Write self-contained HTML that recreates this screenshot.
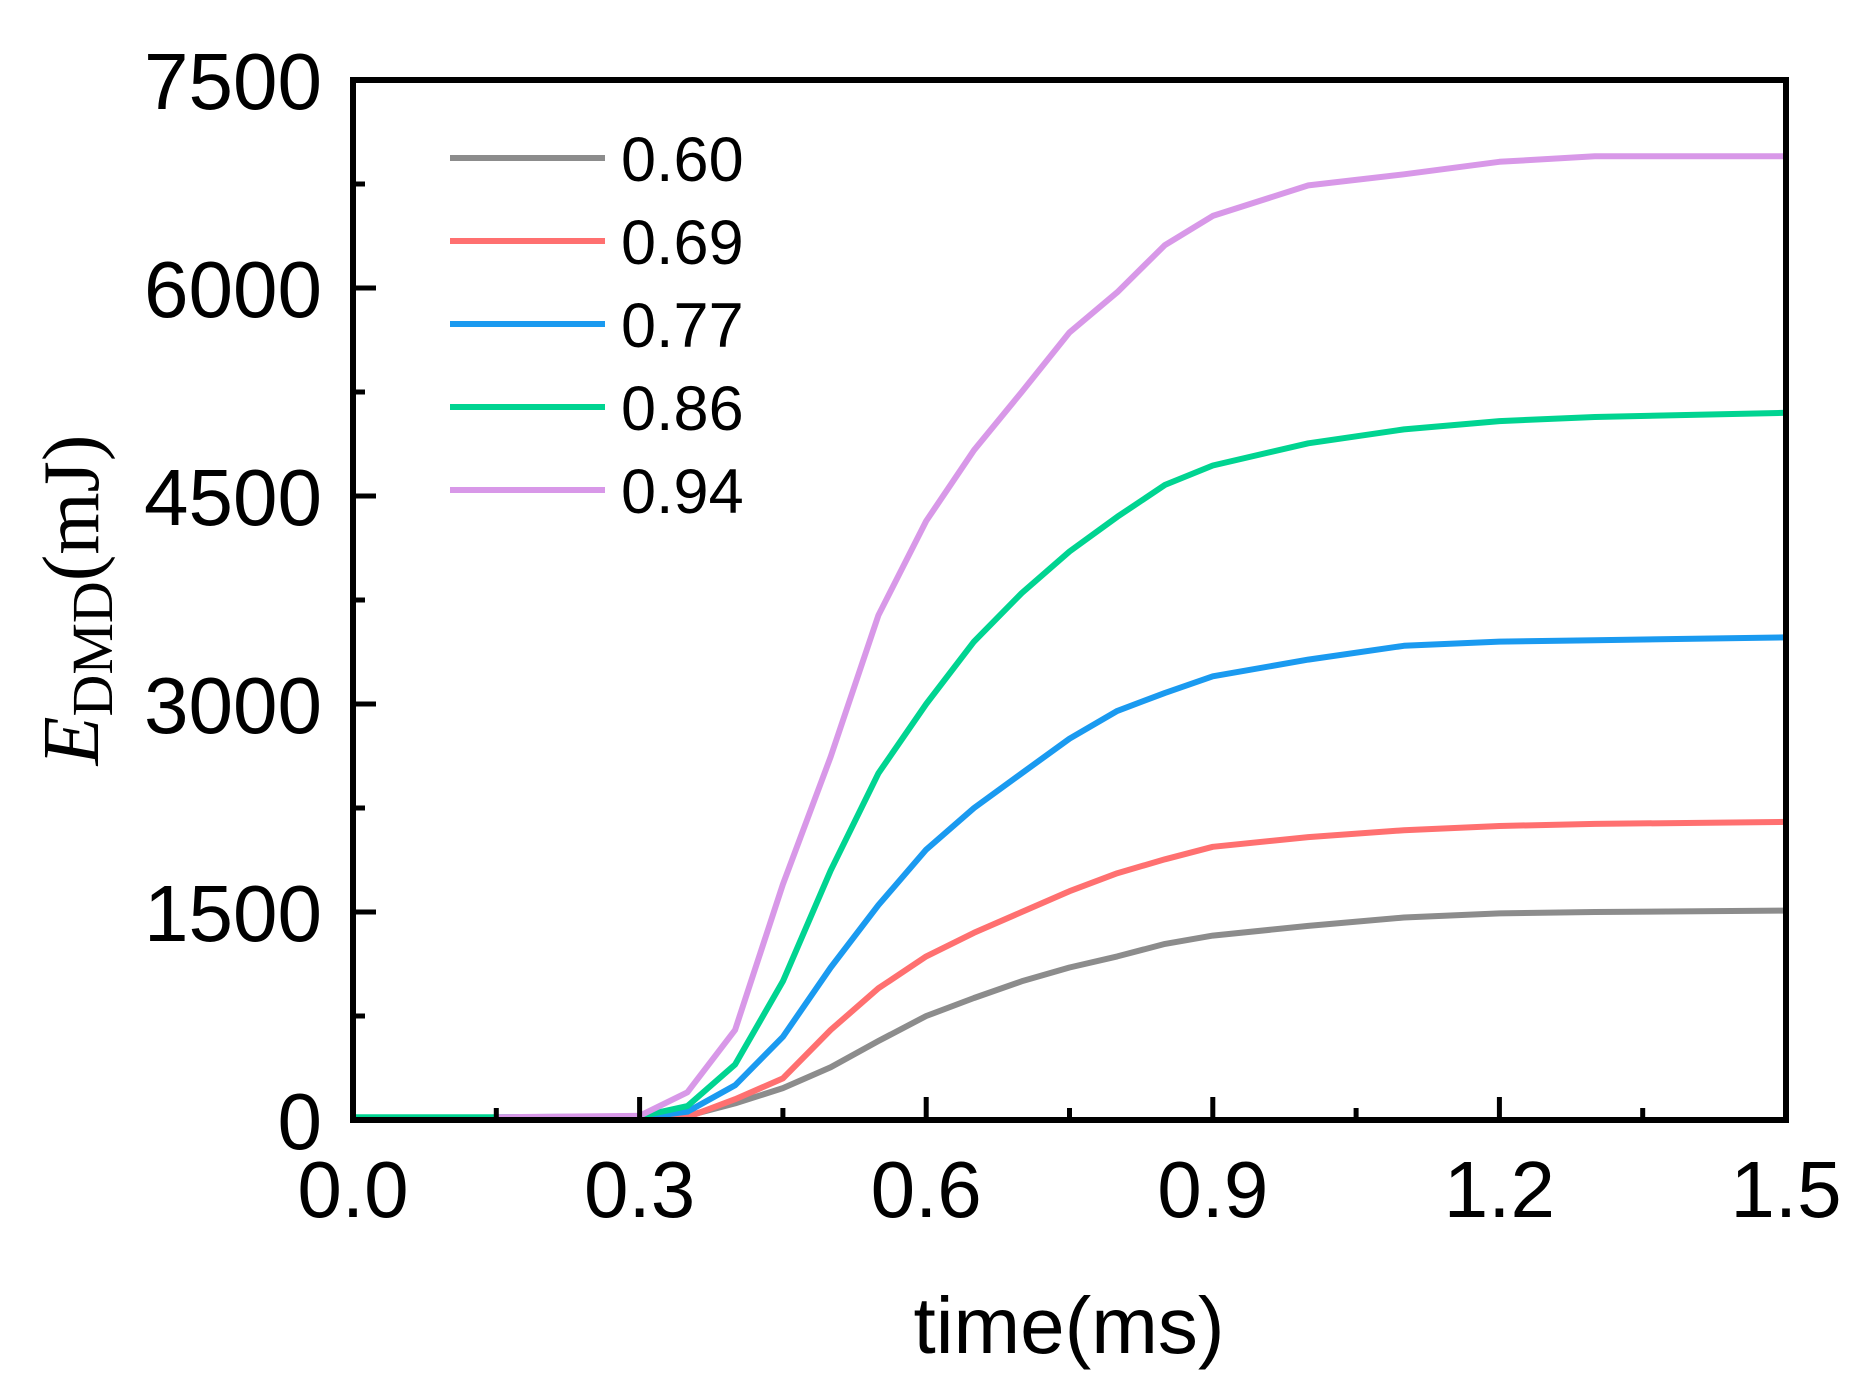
<!DOCTYPE html>
<html><head><meta charset="utf-8"><style>
html,body{margin:0;padding:0;background:#fff;}
svg{display:block;}
text{font-family:"Liberation Sans",Arial,sans-serif;}
</style></head><body>
<svg id="chart" width="1855" height="1396" viewBox="0 0 1855 1396" xmlns="http://www.w3.org/2000/svg">
<g id="series"></g>
<g id="axes"></g>
<g id="legend"></g>
<text x="1069" y="1353" font-size="80" text-anchor="middle">time(ms)</text>
<text transform="translate(98,600) rotate(-90)" text-anchor="middle" style="font-family:'Liberation Serif',serif" font-size="80"><tspan font-style="italic">E</tspan><tspan font-size="58" dy="14">DMD</tspan><tspan dy="-14">(mJ)</tspan></text>
</svg>
<script>
const times = [0, 0.15, 0.3, 0.35, 0.4, 0.45, 0.5, 0.55, 0.6, 0.65, 0.7, 0.75, 0.8, 0.85, 0.9, 1.0, 1.1, 1.2, 1.3, 1.5];
const s060 = [10, 10, 10, 30, 120, 230, 380, 570, 750, 880, 1000, 1100, 1180, 1270, 1330, 1400, 1460, 1490, 1500, 1510];
const s069 = [10, 10, 10, 20, 150, 300, 650, 950, 1180, 1350, 1500, 1650, 1780, 1880, 1970, 2040, 2090, 2120, 2135, 2150];
const s077 = [10, 10, 15, 60, 250, 600, 1100, 1550, 1950, 2250, 2500, 2750, 2950, 3080, 3200, 3320, 3420, 3450, 3460, 3480];
const s086 = [20, 20, 25, 100, 400, 1000, 1800, 2500, 3000, 3450, 3800, 4100, 4350, 4580, 4720, 4880, 4980, 5040, 5070, 5100];
const s094 = [null, 20, 30, 200, 650, 1700, 2620, 3640, 4320, 4830, 5250, 5680, 5970, 6310, 6520, 6740, 6820, 6910, 6950, 6950];
const seriesNames = ["0.60", "0.69", "0.77", "0.86", "0.94"];
const xTicks = [0, 0.3, 0.6, 0.9, 1.2, 1.5];
const xTickLabels = ["0.0", "0.3", "0.6", "0.9", "1.2", "1.5"];
const yTicks = [0, 1500, 3000, 4500, 6000, 7500];
const yTickLabels = ["0", "1500", "3000", "4500", "6000", "7500"];

const allSeries = [s060, s069, s077, s086, s094];
const colors = ["#8c8c8c", "#ff7070", "#1a9af0", "#00d491", "#d898e8"];
const L = 353, R = 1786, T = 80, B = 1120;
const X = v => L + (v - 0) / 1.5 * (R - L);
const Y = v => B - v / 7500 * (B - T);
const NS = "http://www.w3.org/2000/svg";
function mk(tag, attrs, parent) {
  const e = document.createElementNS(NS, tag);
  for (const k in attrs) e.setAttribute(k, attrs[k]);
  parent.appendChild(e);
  return e;
}
const gS = document.getElementById('series');
allSeries.forEach((s, i) => {
  let d = '';
  s.forEach((v, j) => {
    if (v === null) return;
    d += (d ? 'L' : 'M') + X(times[j]).toFixed(1) + ',' + Y(v).toFixed(1);
  });
  const p = mk('path', {d: d, fill: 'none', stroke: colors[i], 'stroke-width': 6, 'stroke-linejoin': 'round'}, gS);
  
  
});
const gA = document.getElementById('axes');
const frame = mk('rect', {x: L, y: T, width: R - L, height: B - T, fill: 'none', stroke: '#000', 'stroke-width': 6}, gA);


xTicks.forEach((v, i) => {
  const t = mk('line', {x1: X(v), x2: X(v), y1: B, y2: B - 23, stroke: '#000', 'stroke-width': 5}, gA);
  
  
  if (i < xTicks.length - 1) {
    const m = (v + xTicks[i + 1]) / 2;
    const mt = mk('line', {x1: X(m), x2: X(m), y1: B, y2: B - 12, stroke: '#000', 'stroke-width': 5}, gA);
    
    
  }
  const lb = mk('text', {x: X(v), y: 1217, 'font-size': 80, 'text-anchor': 'middle'}, gA);
  lb.textContent = xTickLabels[i];
  
  
});
yTicks.forEach((v, i) => {
  const t = mk('line', {x1: L, x2: L + 23, y1: Y(v), y2: Y(v), stroke: '#000', 'stroke-width': 5}, gA);
  
  
  if (i < yTicks.length - 1) {
    const m = (v + yTicks[i + 1]) / 2;
    const mt = mk('line', {x1: L, x2: L + 12, y1: Y(m), y2: Y(m), stroke: '#000', 'stroke-width': 5}, gA);
    
    
  }
  const lb = mk('text', {x: 322, y: Y(v) + 29, 'font-size': 80, 'text-anchor': 'end'}, gA);
  lb.textContent = yTickLabels[i];
  
  
});
const gL = document.getElementById('legend');
seriesNames.forEach((n, i) => {
  const y = 158 + i * 83;
  const ln = mk('line', {x1: 450, x2: 605, y1: y, y2: y, stroke: colors[i], 'stroke-width': 6}, gL);
  
  
  const tx = mk('text', {x: 621, y: y + 23, 'font-size': 63}, gL);
  tx.textContent = n;
  
  
});
</script>
</body></html>
